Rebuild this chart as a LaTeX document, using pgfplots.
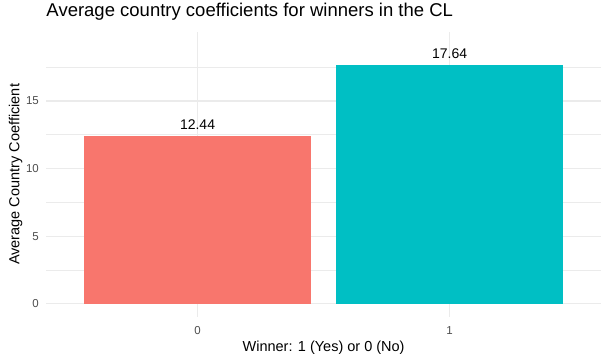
\documentclass[border=0pt]{standalone}
\usepackage{pgfplots}
\pgfplotsset{compat=1.18}
\usepackage{fontspec}
\setmainfont{Liberation Sans}
\definecolor{barred}{HTML}{F8766D}
\definecolor{barcyan}{HTML}{00BFC4}
\definecolor{gridc}{HTML}{EBEBEB}
\definecolor{tickc}{HTML}{4D4D4D}
\begin{document}
\begin{tikzpicture}
\path[use as bounding box] (0,0) rectangle (609bp,362bp);
\begin{axis}[
  at={(46.3bp,45.3bp)}, anchor=south west,
  scale only axis, width=554.6bp, height=284.7bp,
  xmin=-0.6, xmax=1.6, ymin=-0.957, ymax=20.1,
  axis line style={draw=none},
  tick style={draw=none}, major tick length=0pt, minor tick length=0pt,
  xtick={0,1}, xticklabels={0,1},
  ytick={0,5,10,15}, minor ytick={2.5,7.5,12.5,17.5},
  xmajorgrids, ymajorgrids, yminorgrids,
  major grid style={gridc, line width=1.1bp},
  minor grid style={gridc, line width=0.6bp},
  /pgf/number format/assume math mode=true,
  /pgf/number format/fixed, /pgf/number format/precision=2,
  ybar, bar width=0.9,
  title={Average country coefficients for winners in the CL},
  title style={at={([yshift=10bp]rel axis cs:0,1)}, anchor=base west, inner sep=0pt,
    font=\fontsize{18.5bp}{22bp}\selectfont},
  xlabel={Winner: 1 (Yes) or 0 (No)},
  xlabel style={at={([yshift=-35bp]rel axis cs:0.5,0)}, anchor=base, inner sep=0pt,
    font=\fontsize{14.5bp}{17bp}\selectfont},
  ylabel={Average Country Coefficient},
  ylabel style={at={([xshift=-27bp]rel axis cs:0,0.5)}, anchor=base, inner sep=0pt,
    font=\fontsize{14.5bp}{17bp}\selectfont},
  xticklabel style={anchor=base, inner sep=0pt, yshift=-17.6bp, text=tickc,
    font=\fontsize{11.5bp}{13bp}\selectfont},
  yticklabel style={anchor=east, inner sep=0pt, xshift=-7.3bp, text=tickc,
    font=\fontsize{11.5bp}{13bp}\selectfont},
]
\addplot[draw=none, fill=barred, bar shift=0pt, nodes near coords,
  nodes near coords style={anchor=base, inner sep=0pt, yshift=6.3bp, text=black,
    font=\fontsize{14bp}{16bp}\selectfont}]
  coordinates {(0,12.44)};
\addplot[draw=none, fill=barcyan, bar shift=0pt, nodes near coords,
  nodes near coords style={anchor=base, inner sep=0pt, yshift=6.3bp, text=black,
    font=\fontsize{14bp}{16bp}\selectfont}]
  coordinates {(1,17.64)};
\end{axis}
\end{tikzpicture}
\end{document}
